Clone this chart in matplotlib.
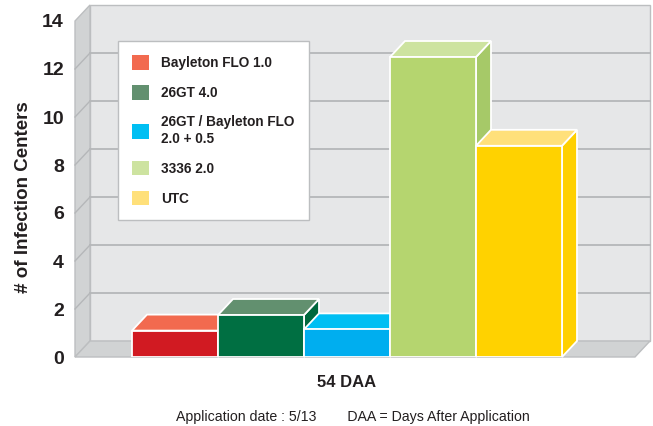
import matplotlib
matplotlib.use("Agg")
import matplotlib.pyplot as plt
from matplotlib.patches import Polygon, Patch

# ---- data ----
treatments = ["Bayleton FLO 1.0", "26GT 4.0", "26GT / Bayleton FLO\n2.0 + 0.5", "3336 2.0", "UTC"]
values = [1.1, 1.75, 1.15, 12.5, 8.8]
group_label = "54 DAA"
yticks = [0, 2, 4, 6, 8, 10, 12, 14]
ylabel = "# of Infection Centers"
footer = "Application date : 5/13        DAA = Days After Application"

front_colors = ["#d11a22", "#006f42", "#00aeef", "#b5d56f", "#ffd200"]
top_colors = ["#f26a4f", "#62906f", "#00bff3", "#cde3a0", "#ffe07a"]
side_colors = ["#b8141b", "#00683d", "#009fd8", "#a6c968", "#ffd000"]

plt.rcParams['font.family'] = ['Liberation Sans Narrow', 'Liberation Sans', 'DejaVu Sans']

W, H = 653, 426
fig = plt.figure(figsize=(W / 100, H / 100), dpi=100)
fig.patch.set_facecolor("white")

# axes spans the front plane region (pixels)
px_left, px_right, px_top, px_bottom = 75, 650, 5, 357
ax = fig.add_axes([px_left / W, (H - px_bottom) / H, (px_right - px_left) / W, (px_bottom - px_top) / H])
bar_w_px = 86.0
first_bar_left = 132.0
xl = -0.5 - (first_bar_left - px_left) / bar_w_px
xr = -0.5 + (px_right - first_bar_left) / bar_w_px
ymax = max(yticks)
DX = 15 / bar_w_px
DY = 16 / 24.0
ax.set_xlim(xl, xr)
ax.set_ylim(0, ymax + DY)
for s in ax.spines.values():
    s.set_visible(False)
ax.patch.set_alpha(0)

wall = "#e6e7e8"
side = "#d1d3d4"
edge = "#bcbec0"
grid = "#b5b7b9"

# walls and floor
ax.add_patch(Polygon([(xl + DX, DY), (xr, DY), (xr, ymax + DY), (xl + DX, ymax + DY)],
                     closed=True, fc=wall, ec=edge, lw=1.0, clip_on=False, zorder=0))
ax.add_patch(Polygon([(xl, 0), (xl + DX, DY), (xl + DX, ymax + DY), (xl, ymax)],
                     closed=True, fc=side, ec=edge, lw=1.0, clip_on=False, zorder=0))
ax.add_patch(Polygon([(xl, 0), (xr - DX, 0), (xr, DY), (xl + DX, DY)],
                     closed=True, fc=side, ec=edge, lw=1.0, clip_on=False, zorder=0))
for v in yticks[1:-1]:
    ax.plot([xl + DX, xr], [v + DY, v + DY], color=grid, lw=1.3, zorder=1, clip_on=False)
    ax.plot([xl, xl + DX], [v, v + DY], color=grid, lw=1.0, zorder=1, clip_on=False)

# bars (left to right: side, top, front)
xs = list(range(len(values)))
z = 2
for i, v in zip(xs, values):
    ax.add_patch(Polygon([(i + 0.5, 0), (i + 0.5 + DX, DY), (i + 0.5 + DX, v + DY), (i + 0.5, v)],
                         closed=True, fc=side_colors[i], ec="white", lw=1.3, zorder=z, clip_on=False))
    ax.add_patch(Polygon([(i - 0.5, v), (i - 0.5 + DX, v + DY), (i + 0.5 + DX, v + DY), (i + 0.5, v)],
                         closed=True, fc=top_colors[i], ec="white", lw=1.3, zorder=z, clip_on=False))
    ax.bar([i], [v], width=1.0, color=front_colors[i], edgecolor="white", linewidth=1.3, zorder=z + 0.5)
    z += 1

# ticks
ax.set_yticks(yticks)
ax.set_yticklabels([str(t) for t in yticks], fontsize=14, fontweight="bold", color="#231f20")
ax.tick_params(axis="y", length=0, pad=8)
ax.set_xticks([2])
ax.set_xticklabels([group_label], fontsize=12, fontweight="bold", color="#231f20")
ax.tick_params(axis="x", length=0, pad=13)

fig.text(24 / W, 1 - 197 / H, ylabel, rotation=90, ha="center", va="center",
         fontsize=13.5, fontweight="bold", color="#231f20")
fig.text(353 / W, 1 - 417 / H, footer, ha="center", va="center", fontsize=10.2, color="#231f20")

handles = [Patch(facecolor=c, edgecolor="none") for c in top_colors]
leg = ax.legend(handles, treatments, loc="upper left",
                bbox_to_anchor=(118 / W, 1 - 41 / H), bbox_transform=fig.transFigure,
                prop={"weight": "bold", "size": 9.8}, frameon=True, fancybox=False,
                edgecolor="#bcbec0", framealpha=1, borderpad=1.05, labelspacing=1.12,
                handlelength=1.25, handleheight=1.25, handletextpad=0.85, borderaxespad=0)
leg.get_frame().set_linewidth(1.0)
for t in leg.get_texts():
    t.set_color("#231f20")
leg.set_zorder(20)

fig.savefig("out.png", dpi=100)
